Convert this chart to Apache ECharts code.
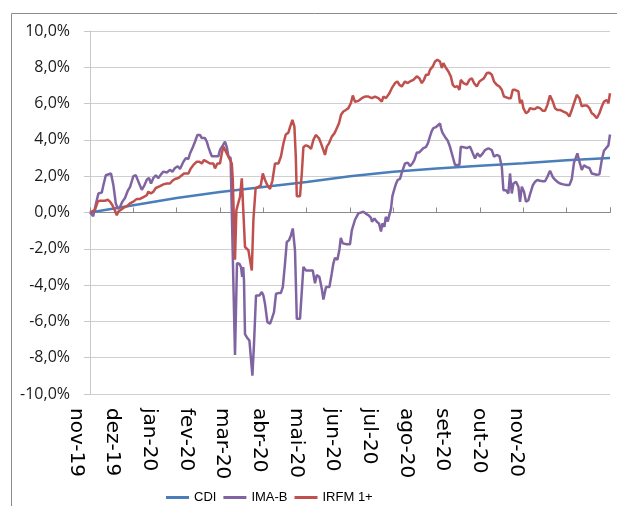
<!DOCTYPE html>
<html>
<head>
<meta charset="utf-8">
<style>
  html, body { margin: 0; padding: 0; background: #ffffff; }
  #chart { width: 617px; height: 506px; }
</style>
<script src="https://cdn.jsdelivr.net/npm/echarts@6/dist/echarts.min.js"></script>
</head>
<body>
<div id="chart"></div>
<script>
// Month labels along the horizontal axis
const monthLabels = ['nov-19', 'dez-19', 'jan-20', 'fev-20', 'mar-20', 'abr-20', 'mai-20',
                     'jun-20', 'jul-20', 'ago-20', 'set-20', 'out-20', 'nov-20'];

// Weekday count covered by the period (nov-19 .. nov-20)
const totalDays = 260;

// Cumulative return (%) at the start of each month
const cdiMonthly = [0, 0.4, 0.8, 1.13, 1.41, 1.68, 2.0, 2.25, 2.43, 2.58, 2.72, 2.88, 3.0];

// Cumulative return (%) by weekday index: [day, value]
const imab = [
  [0,0],[1.6,-0.2],[3,0.5],[4.2,1.05],[5.9,1.1],[6.7,1.5],[7.9,2.05],[8.9,2.15],[10.5,2.15],[11.7,1.5],
  [12.9,0.5],[13.9,0.2],[15,0.3],[16.2,0.6],[17.5,0.8],[18.9,1.2],[20,1.4],[21.7,2.0],[22.9,2.05],[24.2,1.7],
  [25.9,1.25],[27.2,1.5],[28.4,1.8],[29.5,1.9],[30.5,1.6],[31.7,1.9],[32.9,2.05],[34.2,1.9],[35.5,2.1],[36.7,2.25],
  [38.4,2.2],[40,2.35],[41.2,2.25],[42.5,2.45],[43.9,2.55],[45,2.4],[46.7,2.8],[48,3.0],[49.2,2.95],[50,3.25],
  [51.4,3.6],[52.5,3.9],[53.7,4.27],[55,4.27],[55.9,4.1],[56.7,4.2],[57.5,4.1],[58.4,3.9],[59.2,3.6],[60,3.35],
  [60.9,3.1],[62.5,3.1],[64.2,3.1],[65,3.45],[66.4,3.7],[67.5,3.9],[68.4,3.6],[69.2,3.1],[70.3,3.0],[72.5,-7.85],
  [73.5,-2.8],[74.7,-2.82],[75.5,-3.0],[76.1,-3.55],[76.6,-3.0],[77,-3.74],[77.5,-6.7],[78.4,-6.87],[79.7,-7.05],[80.5,-7.05],
  [81.2,-8.99],[82,-7.24],[83,-4.57],[84.7,-4.57],[85.9,-4.38],[86.7,-4.57],[87.5,-5.03],[88.7,-6.04],[90,-6.13],[90.9,-5.86],
  [92,-5.49],[93,-4.48],[94.2,-4.44],[95.4,-4.44],[96.4,-4.11],[97.5,-2.82],[98.4,-1.62],[99.5,-1.53],[100.5,-1.25],[101.4,-0.88],
  [102.5,-2.08],[103.4,-5.86],[105,-5.86],[106.7,-3.0],[108,-3.19],[111.4,-3.2],[112.5,-3.9],[113.4,-3.45],[114.7,-3.55],[115.9,-4.2],
  [116.7,-4.8],[118,-4.1],[119.7,-4.1],[120.9,-3.35],[121.7,-2.8],[122.5,-2.5],[123.7,-2.6],[124.7,-2.05],[125.4,-1.4],[126.4,-1.7],
  [128.4,-1.75],[130,-1.75],[130.9,-0.98],[132.5,-0.4],[134.2,-0.05],[136.7,0.04],[137.9,-0.06],[139.2,-0.15],[140.5,-0.3],[141,-0.51],
  [142.2,-0.33],[143.4,-0.51],[144.5,-0.6],[145.5,-1.05],[146.2,-0.6],[147.2,-0.79],[147.9,-0.24],[148.9,-0.5],[149.5,-0.2],[150.5,0.2],
  [151.2,0.9],[152.2,1.3],[152.9,1.55],[153.9,1.8],[155,1.85],[155.9,2.2],[156.7,2.2],[157.5,2.7],[158.9,2.75],[160,2.55],
  [161.2,2.7],[162.2,2.9],[163.4,3.3],[164.5,3.3],[165.5,3.3],[166.7,3.55],[167.9,3.6],[168.9,3.8],[170,4.2],[170.9,4.5],
  [171.7,4.65],[172.9,4.7],[173.9,4.6],[175,4.9],[175.5,4.65],[176.2,4.4],[177.2,4.35],[177.9,4.1],[178.9,3.95],[180,3.62],
  [181.3,3.1],[182.5,2.62],[184.7,2.62],[185.4,3.63],[186.7,3.6],[188.4,3.55],[190,3.63],[191.4,3.26],[192.5,2.98],[193.7,3.26],
  [195,3.08],[196.4,3.26],[197.5,3.44],[199.2,3.54],[200.9,3.44],[202,3.08],[203.4,3.17],[204.7,3.11],[205.9,2.52],[206.7,1.23],
  [208,1.23],[209.2,1.05],[210,2.15],[210.9,1.05],[211.7,1.6],[213,1.69],[214.2,1.42],[215,0.59],[215.9,1.42],[217,1.14],
  [218,0.59],[219.2,0.68],[220,1.0],[221.4,1.5],[222.5,1.69],[223.7,1.79],[225,1.75],[226.4,1.72],[227.5,1.72],[228.7,1.97],
  [230,2.3],[231.4,1.95],[232.5,1.8],[233.7,1.69],[235,1.6],[236.7,1.55],[238.4,1.51],[239.7,1.51],[240.9,1.85],[242,2.75],
  [243.7,3.26],[244.7,2.8],[245.9,2.34],[247,2.6],[248.4,2.5],[249.7,2.45],[250.9,2.15],[253.4,2.08],[254.7,2.1],[255.9,2.9],
  [257,3.4],[258,3.48],[259.2,3.7],[260,4.3]
];

const irfm = [
  [0,0],[2.5,0.15],[3.9,0.6],[5,0.65],[7.5,0.65],[8.9,0.7],[10,0.6],[11.2,0.4],[12.5,0.1],[13.4,-0.15],
  [14.2,0.05],[15.5,0.15],[16.7,0.25],[18.4,0.35],[20,0.5],[21.7,0.6],[23.4,0.75],[25,0.75],[26.7,0.85],[28.4,0.95],
  [29.2,1.15],[30.4,1.05],[31.7,1.15],[32.9,1.35],[33.9,1.25],[35,1.45],[36.7,1.55],[38.4,1.6],[40,1.6],[41.2,1.75],
  [42.5,1.85],[44.2,1.9],[45.9,2.05],[47,2.15],[49.2,2.15],[50.4,2.43],[51.7,2.62],[53.4,2.8],[54.7,2.8],[55.9,2.7],
  [57,2.89],[58.4,2.8],[60,2.7],[61.7,2.7],[62.5,2.43],[63.7,2.7],[65,2.7],[65.9,3.26],[66.7,3.63],[67.5,3.72],
  [68.4,3.26],[69.2,3.08],[70,3.08],[70.9,2.7],[71.4,1.8],[72.5,-2.6],[73.2,0.13],[74.2,0.22],[75,0.87],[75.9,1.88],
  [76.7,1.9],[77.5,-1.9],[78.4,-1.9],[79.2,-2.08],[80,-2.17],[80.9,-3.2],[81.7,-0.4],[82.8,1.33],[84.2,1.42],[85.4,1.5],
  [86.4,2.15],[87.5,1.79],[88.7,1.5],[90,1.3],[91.2,1.75],[92.5,2.7],[94.2,2.7],[95.5,3.1],[96.7,3.8],[97.9,4.3],
  [99.2,4.4],[100,4.7],[101.2,5.1],[102.2,4.73],[102.9,3.08],[103.4,0.9],[105,0.9],[105.9,2.15],[106.7,3.6],[107.9,3.7],
  [109.2,3.65],[110.5,3.5],[111.7,4.0],[112.9,4.27],[113.9,4.36],[114.5,4.09],[115.5,3.81],[116.7,3.44],[117.5,3.17],[118.4,3.63],
  [119.5,3.81],[120.9,4.18],[122.2,4.36],[123,4.55],[123.9,4.5],[124.5,4.92],[125.5,5.38],[126.7,5.56],[127.9,5.65],[129.2,5.75],
  [130.5,6.05],[131.4,6.45],[132.5,6.1],[134.2,6.15],[135.9,6.3],[137.5,6.39],[139.2,6.39],[140.9,6.3],[141.7,6.2],[142.5,6.39],
  [144.2,6.3],[145.9,6.11],[146.7,6.39],[148,6.3],[149.7,6.57],[150.9,6.85],[152.5,7.13],[153.7,7.22],[154.7,7.03],[155.9,6.94],
  [157.5,7.22],[158.7,7.13],[160,7.22],[161.7,7.31],[163.4,7.5],[164.7,7.4],[165.9,7.13],[167,7.31],[168,7.59],[169.2,7.59],
  [170,7.86],[171.4,8.05],[172.5,8.32],[173.7,8.42],[175,8.32],[175.9,7.96],[176.7,8.23],[178,7.96],[179.2,7.77],[180.4,7.5],
  [181.4,7.03],[182.5,6.9],[183.7,6.97],[184.7,6.76],[185.4,7.31],[186.7,7.13],[188.4,7.05],[189.7,7.31],[190.9,7.4],[192,7.13],
  [193.4,6.94],[194.7,7.22],[195.9,7.31],[197,7.4],[198.4,7.68],[199.7,7.7],[200.9,7.59],[202,7.22],[203.4,7.03],[204.7,6.94],
  [205.9,6.76],[207,6.39],[208,6.48],[209.2,6.3],[210.4,6.3],[211.4,6.76],[212.5,6.76],[213.4,6.85],[214.2,6.67],[215,6.02],
  [215.9,6.2],[216.7,5.75],[218,5.47],[219.2,5.56],[220,5.75],[221.4,5.7],[222.5,5.7],[223.7,5.8],[225,5.75],[226.4,5.6],
  [227.5,5.6],[228.7,5.93],[230,6.45],[231.4,6.11],[232.5,5.75],[233.7,5.65],[235,5.65],[236.7,5.56],[238.4,5.47],[239.7,5.29],
  [240.9,5.65],[242,6.02],[243.4,6.48],[244.7,6.3],[245.9,5.84],[247,5.9],[248.4,5.9],[249.7,5.75],[250.9,5.47],[252,5.38],
  [253.4,5.19],[254.7,5.47],[255.9,5.84],[257,6.11],[258.4,6.2],[259.2,6.02],[260,6.57]
];

// Y axis range and step (%)
const yMin = -10, yMax = 10, yStep = 2;

const daysPerMonth = totalDays / (monthLabels.length - 1);
const cdi = cdiMonthly.map((v, i) => [i * daysPerMonth, v]);

const fmtPct = v => v.toFixed(1).replace('.', ',') + '%';

const chart = echarts.init(document.getElementById('chart'), null, { renderer: 'canvas' });

chart.setOption({
  animation: false,
  backgroundColor: '#ffffff',
  graphic: [{
    type: 'rect',
    left: 9, top: 11,
    shape: { width: 700, height: 600 },
    style: { fill: 'none', stroke: '#8c8c8c', lineWidth: 1 },
    silent: true
  }],
  grid: [
    { left: 90, right: 7, top: 31, bottom: 112 },
    { left: 76, width: 440, top: 31, bottom: 112 }
  ],
  legend: {
    left: 166, bottom: 2, padding: 0,
    icon: 'rect', itemWidth: 23, itemHeight: 3, itemGap: 7,
    textStyle: { fontFamily: 'Liberation Sans', fontSize: 13, color: '#000000' },
    data: ['CDI', 'IMA-B', 'IRFM 1+']
  },
  xAxis: [
    {
      type: 'value', gridIndex: 0,
      min: 0, max: totalDays, interval: daysPerMonth,
      axisLine: { onZero: true, lineStyle: { color: '#8a8a8a', width: 1 } },
      axisTick: { show: true, inside: true, length: 5, lineStyle: { color: '#8a8a8a' } },
      axisLabel: { show: false },
      splitLine: { show: false }
    },
    {
      type: 'category', gridIndex: 1, boundaryGap: false,
      data: monthLabels,
      axisLine: { show: false }, axisTick: { show: false },
      axisLabel: {
        rotate: -90, margin: 14, interval: 0,
        fontFamily: 'DejaVu Sans', fontSize: 20, color: '#000000'
      },
      splitLine: { show: false }
    }
  ],
  yAxis: [
    {
      type: 'value', gridIndex: 0,
      min: yMin, max: yMax, interval: yStep,
      axisLine: { show: true, onZero: false, lineStyle: { color: '#c8c8c8' } },
      axisTick: { show: true, length: 6, lineStyle: { color: '#c8c8c8' } },
      axisLabel: {
        margin: 20, formatter: fmtPct,
        fontFamily: 'Open Sans', fontSize: 16, color: '#1a1a1a'
      },
      splitLine: { show: true, lineStyle: { color: '#cfcfcf', width: 1 } }
    },
    {
      type: 'value', gridIndex: 1, min: yMin, max: yMax, show: false
    }
  ],
  series: [
    {
      name: 'CDI', type: 'line', xAxisIndex: 0, yAxisIndex: 0,
      data: cdi, showSymbol: false, color: '#4a7ebb',
      lineStyle: { width: 2.5, color: '#4a7ebb' }
    },
    {
      name: 'IMA-B', type: 'line', xAxisIndex: 0, yAxisIndex: 0,
      data: imab, showSymbol: false, color: '#8064a2',
      lineStyle: { width: 2.5, color: '#8064a2' }
    },
    {
      name: 'IRFM 1+', type: 'line', xAxisIndex: 0, yAxisIndex: 0,
      data: irfm, showSymbol: false, color: '#c0504d',
      lineStyle: { width: 2.5, color: '#c0504d' }
    }
  ]
});
</script>
</body>
</html>
